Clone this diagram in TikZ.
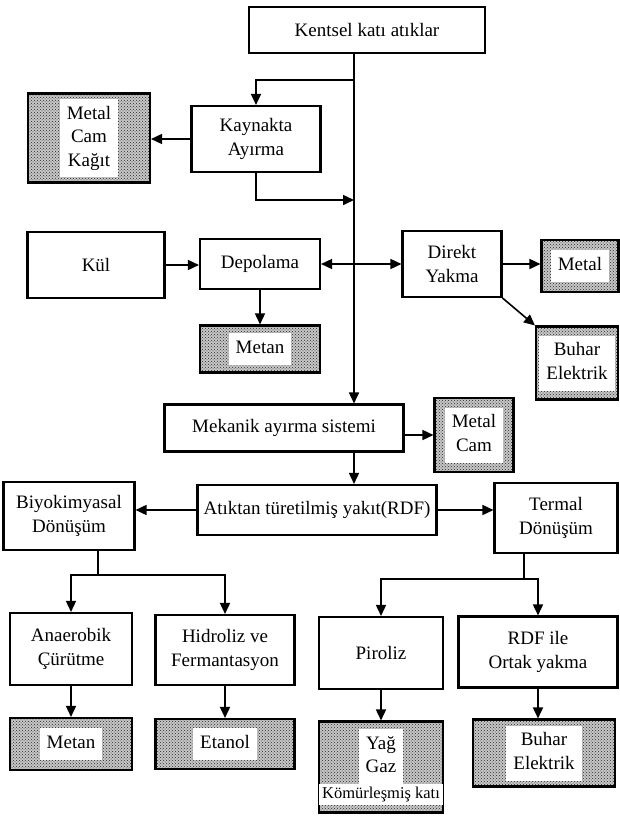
\documentclass[tikz,border=0pt]{standalone}
\usepackage{fontspec}
\setmainfont{Liberation Serif}
\usetikzlibrary{arrows.meta,  patterns}
\newcommand{\yazi}{\fontsize{19}{23.5}\selectfont}
\newcommand{\beyaz}[1]{{\setlength{\fboxsep}{4pt}\colorbox{white}{\begin{tabular}{@{\hspace{3pt}}c@{\hspace{3pt}}}#1\end{tabular}}}}

\begin{document}
\begin{tikzpicture}[x=1pt,  y=-1pt,
    kutu/.style={draw,  rectangle,  line width=2.1pt,  align=center,  inner sep=0pt,  font=\yazi},
    urun/.style={kutu,  preaction={fill=black!22},  pattern=crosshatch dots,  pattern color=black!85},
    ok/.style={-{Triangle[length=11pt,  width=10pt]},  line width=1.6pt},
    hat/.style={line width=1.6pt}]
          \useasboundingbox (0, 0) rectangle (620, 816);
          \fill[white] (0, 0) rectangle (620, 816);
          \node[kutu,  minimum width=236pt,  minimum height=46pt] (kentsel) at (367, 30) {Kentsel katı atıklar};
          \node[kutu,  minimum width=129pt,  minimum height=66pt] (kaynakta) at (256, 139) {Kaynakta\\Ayırma};
          \node[urun,  minimum width=122pt,  minimum height=89pt] (mck) at (89, 138) {\beyaz{Metal\\Cam\\Kağıt}};
          \node[kutu,  minimum width=137pt,  minimum height=66pt] (kul) at (96, 265) {Kül};
          \node[kutu,  minimum width=120pt,  minimum height=50pt] (depolama) at (260, 264) {Depolama};
          \node[kutu,  minimum width=99pt,  minimum height=66pt] (direkt) at (452, 264) {Direkt\\Yakma};
          \node[urun,  minimum width=77pt,  minimum height=52pt] (metalA) at (580, 266) {\beyaz{Metal}};
          \node[urun,  minimum width=82pt,  minimum height=73pt] (buharA) at (577, 363) {\beyaz{Buhar\\Elektrik}};
          \node[urun,  minimum width=120pt,  minimum height=47pt] (metanA) at (260, 349) {\beyaz{Metan}};
          \node[kutu,  minimum width=239pt,  minimum height=47pt] (mekanik) at (284, 428) {Mekanik ayırma sistemi};
          \node[urun,  minimum width=79pt,  minimum height=74pt] (metalcam) at (474, 435) {\beyaz{Metal\\Cam}};
          \node[kutu,  minimum width=239pt,  minimum height=50pt] (rdf) at (317, 510) {Atıktan türetilmiş yakıt(RDF)};
          \node[kutu,  minimum width=131pt,  minimum height=68pt] (biyo) at (69, 516) {Biyokimyasal\\Dönüşüm};
          \node[kutu,  minimum width=123pt,  minimum height=70pt] (termal) at (556, 518) {Termal\\Dönüşüm};
          \node[kutu,  minimum width=122pt,  minimum height=72pt] (anaerobik) at (71, 649) {Anaerobik\\Çürütme};
          \node[kutu,  minimum width=139pt,  minimum height=70pt] (hidroliz) at (225, 650) {Hidroliz ve\\Fermantasyon};
          \node[kutu,  minimum width=124pt,  minimum height=72pt] (piroliz) at (381, 653) {Piroliz};
          \node[kutu,  minimum width=159pt,  minimum height=71pt] (ortak) at (538, 652) {RDF ile\\Ortak yakma};
          \node[urun,  minimum width=122pt,  minimum height=52pt] (metanB) at (71, 744) {\beyaz{Metan}};
          \node[urun,  minimum width=139pt,  minimum height=50pt] (etanol) at (225, 744) {\beyaz{Etanol}};
          \node[urun,  minimum width=124pt,  minimum height=91pt] (yag) at (381, 767) {\beyaz{Yağ\\Gaz}\\[-1pt]\colorbox{white}{\fontsize{16.5}{19}\selectfont Kömürleşmiş katı}};
          \node[urun,  minimum width=142pt,  minimum height=67pt] (buharB) at (544, 753) {\beyaz{Buhar\\Elektrik}};
          \coordinate (govde) at (354, 0);
          \coordinate (ayrim1) at (354, 80);
          \coordinate (donus1) at (354, 200);
          \coordinate (bkol) at (98, 575);
          \coordinate (tkol) at (524, 579);
          \draw[ok]  (kentsel.south -| govde) -- (mekanik.north -| govde);
          \draw[ok]  (ayrim1) -| (kaynakta.north);
          \draw[ok]  (kaynakta.west) -- (kaynakta.west -| mck.east);
          \draw[ok]  (kaynakta.south) |- (donus1);
          \draw[ok]  (kul.east) -- (kul.east -| depolama.west);
          \draw[ok]  (depolama.east -| govde) -- (depolama.east);
          \draw[ok]  (direkt.west -| govde) -- (direkt.west);
          \draw[ok]  (direkt.east) -- (direkt.east -| metalA.west);
          \draw[ok]  (direkt.south east) -- (buharA.north west);
          \draw[ok]  (depolama.south) -- (metanA.north);
          \draw[ok]  (mekanik.east |- metalcam.west) -- (metalcam.west);
          \draw[ok]  (mekanik.south -| govde) -- (rdf.north -| govde);
          \draw[ok]  (rdf.west) -- (rdf.west -| biyo.east);
          \draw[ok]  (rdf.east) -- (rdf.east -| termal.west);
          \draw[hat] (biyo.south -| bkol) -- (bkol);
          \draw[ok]  (bkol) -| (anaerobik.north);
          \draw[ok]  (bkol) -| (hidroliz.north);
          \draw[hat] (termal.south -| tkol) -- (tkol);
          \draw[ok]  (tkol) -| (piroliz.north);
          \draw[ok]  (tkol) -| (ortak.north);
          \draw[ok]  (anaerobik.south) -- (metanB.north);
          \draw[ok]  (hidroliz.south) -- (etanol.north);
          \draw[ok]  (piroliz.south) -- (yag.north);
          \draw[ok]  (ortak.south) -- (ortak.south |- buharB.north);
      \end{tikzpicture}
\end{document}
